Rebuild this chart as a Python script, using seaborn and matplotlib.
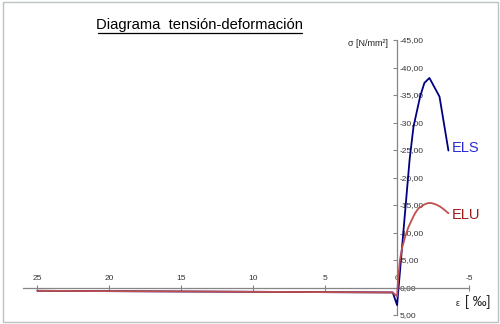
import matplotlib
matplotlib.use("Agg")
import matplotlib.pyplot as plt
from matplotlib.ticker import FuncFormatter
from matplotlib.patches import Rectangle
from matplotlib.lines import Line2D
import seaborn as sns
import pandas as pd

# Data (strain in per mille, stress in N/mm2)
els_strain = [25, 0.3, 0.0, -0.87, -1.14, -1.6, -1.9, -2.25, -2.95, -3.57]
els_stress = [0.6, 0.9, 3.2, -23.2, -29.2, -34.7, -37.2, -38.1, -34.7, -24.9]
elu_strain = [25, 0.3, 0.0, -0.09, -0.2, -0.36, -0.56, -0.78, -1.02, -1.25, -1.49,
              -1.9, -2.15, -2.4, -2.7, -3.0, -3.3, -3.57]
elu_stress = [0.6, 0.9, 1.6, -2.0, -5.0, -7.3, -9.2, -10.9, -12.3, -13.5, -14.4,
              -15.1, -15.35, -15.35, -15.1, -14.7, -14.1, -13.5]
x_ticks = [25, 20, 15, 10, 5, 0, -5]
y_ticks = [-45, -40, -35, -30, -25, -20, -15, -10, -5, 0, 5]

sns.set_style("white")
plt.rcParams['font.family'] = ['Liberation Sans', 'DejaVu Sans']

W, H = 500, 324
fig = plt.figure(figsize=(W / 100, H / 100), dpi=100)
ax = fig.add_axes([23 / W, 1 - 315 / H, (469 - 23) / W, (315 - 40) / H])
ax.set_facecolor('none')

df_els = pd.DataFrame({'e': els_strain, 's': els_stress})
df_elu = pd.DataFrame({'e': elu_strain, 's': elu_stress})
sns.lineplot(data=df_els, x='e', y='s', sort=False, color='#000080', lw=1.3, ax=ax, zorder=3)
sns.lineplot(data=df_elu, x='e', y='s', sort=False, color='#C0504D', lw=1.3, ax=ax, zorder=4)

ax.set_xlim(26, -5)
ax.set_ylim(5, -45)
ax.set_xlabel('')
ax.set_ylabel('')
ax.set_xticks(x_ticks)
ax.set_yticks(y_ticks)
ax.xaxis.set_major_formatter(FuncFormatter(lambda v, p: f"{int(v)}"))
ax.yaxis.set_major_formatter(FuncFormatter(lambda v, p: f"{v:.2f}".replace('.', ',')))

for s in ['left', 'bottom']:
    ax.spines[s].set_visible(False)
ax.spines['top'].set_position(('data', 0))
ax.spines['right'].set_position(('data', 0))
for s in ['top', 'right']:
    ax.spines[s].set_color('#868686')
    ax.spines[s].set_linewidth(0.9)
ax.xaxis.set_ticks_position('top')
ax.yaxis.set_ticks_position('right')
ax.tick_params(axis='x', direction='inout', length=4, width=0.8, color='#868686',
               pad=2, labelsize=6, labelcolor='#333333')
ax.tick_params(axis='y', direction='in', length=3, width=0.8, color='#868686',
               pad=2, labelsize=6, labelcolor='#333333')
ax.grid(False)

# Texts
fig.text(200 / W, 1 - 29 / H, 'Diagrama  tensión-deformación', ha='center', va='baseline',
         fontsize=10.6, color='black')
fig.add_artist(Line2D([98 / W, 302 / W], [1 - 32.5 / H, 1 - 32.5 / H], color='black', lw=0.9))
fig.text(388 / W, 1 - 43 / H, 'σ [N/mm²]', ha='right', va='center', fontsize=6.5, color='#222222')
fig.text(460 / W, 1 - 303 / H, 'ε', ha='right', va='center', fontsize=6.5, color='#222222')
fig.text(465 / W, 1 - 302 / H, '[ ‰]', ha='left', va='center', fontsize=10, color='#222222')
fig.text(452 / W, 1 - 148 / H, 'ELS', ha='left', va='center', fontsize=10.5, color='#2B2BD1')
fig.text(452 / W, 1 - 215 / H, 'ELU', ha='left', va='center', fontsize=10.5, color='#9B1B1B')

# Chart border
fig.add_artist(Rectangle((2.5 / W, 1 - 321.5 / H), 495.5 / W, 320 / H, fill=False,
                         edgecolor='#B8C4C4', lw=1.0, transform=fig.transFigure))

fig.savefig('out.png', dpi=100)
